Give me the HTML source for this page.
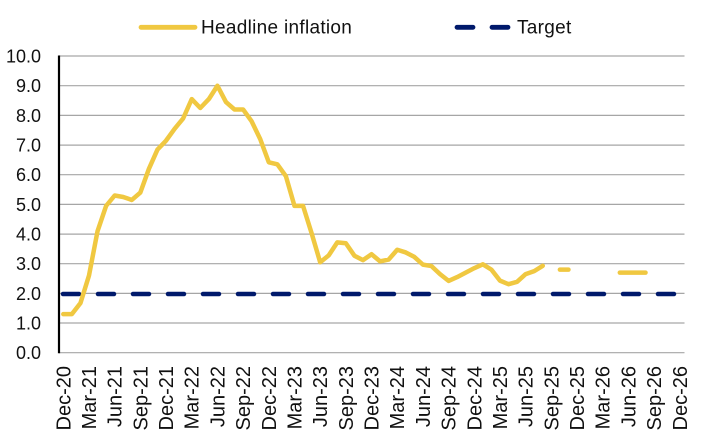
<!DOCTYPE html>
<html>
<head>
<meta charset="utf-8">
<style>
  html, body { margin:0; padding:0; background:#ffffff; }
  body { width:707px; height:441px; overflow:hidden; }
  svg { display:block; }
  text { font-family: "Liberation Sans", sans-serif; fill:#111; }
</style>
</head>
<body>
<svg width="707" height="441" viewBox="0 0 707 441" xmlns="http://www.w3.org/2000/svg">
  <!-- Gridlines -->
  <g stroke="#a6a6a6" stroke-width="1.2">
    <line x1="59" y1="56" x2="684.5" y2="56"/>
    <line x1="59" y1="85.7" x2="684.5" y2="85.7"/>
    <line x1="59" y1="115.4" x2="684.5" y2="115.4"/>
    <line x1="59" y1="145.1" x2="684.5" y2="145.1"/>
    <line x1="59" y1="174.7" x2="684.5" y2="174.7"/>
    <line x1="59" y1="204.4" x2="684.5" y2="204.4"/>
    <line x1="59" y1="234.1" x2="684.5" y2="234.1"/>
    <line x1="59" y1="263.7" x2="684.5" y2="263.7"/>
    <line x1="59" y1="293.4" x2="684.5" y2="293.4"/>
    <line x1="59" y1="323.0" x2="684.5" y2="323.0"/>
    <line x1="59" y1="352.7" x2="684.5" y2="352.7"/>
  </g>
  <!-- Y axis -->
  <line x1="59" y1="55.5" x2="59" y2="353.2" stroke="#000" stroke-width="2.2"/>

  <!-- Y labels -->
  <g font-size="18" text-anchor="end">
    <text x="41" y="62.5">10.0</text>
    <text x="41" y="92.2">9.0</text>
    <text x="41" y="121.9">8.0</text>
    <text x="41" y="151.6">7.0</text>
    <text x="41" y="181.2">6.0</text>
    <text x="41" y="210.9">5.0</text>
    <text x="41" y="240.6">4.0</text>
    <text x="41" y="270.2">3.0</text>
    <text x="41" y="299.9">2.0</text>
    <text x="41" y="329.5">1.0</text>
    <text x="41" y="359.2">0.0</text>
  </g>

  <!-- X labels -->
  <g font-size="20" text-anchor="end">
    <text transform="translate(70.3,366) rotate(-90)">Dec-20</text>
    <text transform="translate(95.99,366) rotate(-90)">Mar-21</text>
    <text transform="translate(121.67,366) rotate(-90)">Jun-21</text>
    <text transform="translate(147.36,366) rotate(-90)">Sep-21</text>
    <text transform="translate(173.04,366) rotate(-90)">Dec-21</text>
    <text transform="translate(198.73,366) rotate(-90)">Mar-22</text>
    <text transform="translate(224.42,366) rotate(-90)">Jun-22</text>
    <text transform="translate(250.10,366) rotate(-90)">Sep-22</text>
    <text transform="translate(275.79,366) rotate(-90)">Dec-22</text>
    <text transform="translate(301.47,366) rotate(-90)">Mar-23</text>
    <text transform="translate(327.16,366) rotate(-90)">Jun-23</text>
    <text transform="translate(352.85,366) rotate(-90)">Sep-23</text>
    <text transform="translate(378.53,366) rotate(-90)">Dec-23</text>
    <text transform="translate(404.22,366) rotate(-90)">Mar-24</text>
    <text transform="translate(429.90,366) rotate(-90)">Jun-24</text>
    <text transform="translate(455.59,366) rotate(-90)">Sep-24</text>
    <text transform="translate(481.28,366) rotate(-90)">Dec-24</text>
    <text transform="translate(506.96,366) rotate(-90)">Mar-25</text>
    <text transform="translate(532.65,366) rotate(-90)">Jun-25</text>
    <text transform="translate(558.33,366) rotate(-90)">Sep-25</text>
    <text transform="translate(584.02,366) rotate(-90)">Dec-25</text>
    <text transform="translate(609.70,366) rotate(-90)">Mar-26</text>
    <text transform="translate(635.39,366) rotate(-90)">Jun-26</text>
    <text transform="translate(661.08,366) rotate(-90)">Sep-26</text>
    <text transform="translate(686.76,366) rotate(-90)">Dec-26</text>
  </g>

  <!-- Target line -->
  <line x1="63" y1="294" x2="681" y2="294" stroke="#00196b" stroke-width="4.5" stroke-linecap="round" stroke-dasharray="16 19"/>

  <!-- Headline inflation -->
  <g fill="none" stroke="#f0c841" stroke-width="4.5" stroke-linecap="round" stroke-linejoin="round">
    <polyline points="63.3,314.14 71.86,314.14 80.42,303.17 88.99,275.58 97.55,231.09 106.11,205.88 114.67,195.5 123.23,196.98 131.80,199.95 140.36,192.54 148.92,168.81 157.48,149.53 166.04,140.63 174.61,128.77 183.17,118.39 191.73,99.11 200.29,108.0 208.85,99.11 217.42,85.76 225.98,102.07 234.54,109.49 243.10,109.49 251.66,121.35 260.23,139.15 268.79,162.28 277.35,164.36 285.91,176.22 294.47,205.88 303.04,205.88 311.60,233.17 320.16,262.24 328.72,255.42 337.28,242.36 345.85,243.25 354.41,255.71 362.97,260.16 371.53,254.23 380.09,261.35 388.66,259.57 397.22,249.78 405.78,252.45 414.34,256.9 422.90,264.61 431.47,266.09 440.03,274.1 448.59,280.92 457.15,277.07 465.71,272.62 474.28,268.17 482.84,264.31 491.40,269.65 499.96,280.63 508.52,284.19 517.09,281.81 525.65,274.1 534.21,271.13 542.77,265.8"/>
    <line x1="559.90" y1="269.65" x2="568.46" y2="269.65"/>
    <line x1="619.83" y1="272.62" x2="645.52" y2="272.62"/>
  </g>

  <!-- Legend -->
  <line x1="141" y1="27.3" x2="195" y2="27.3" stroke="#f0c841" stroke-width="4.8" stroke-linecap="round"/>
  <text x="201" y="33.3" font-size="19" letter-spacing="0.3">Headline inflation</text>
  <line x1="457" y1="27.3" x2="473" y2="27.3" stroke="#00196b" stroke-width="4.8" stroke-linecap="round"/>
  <line x1="492" y1="27.3" x2="508" y2="27.3" stroke="#00196b" stroke-width="4.8" stroke-linecap="round"/>
  <text x="517" y="33.3" font-size="19" letter-spacing="0.3">Target</text>
</svg>
</body>
</html>
